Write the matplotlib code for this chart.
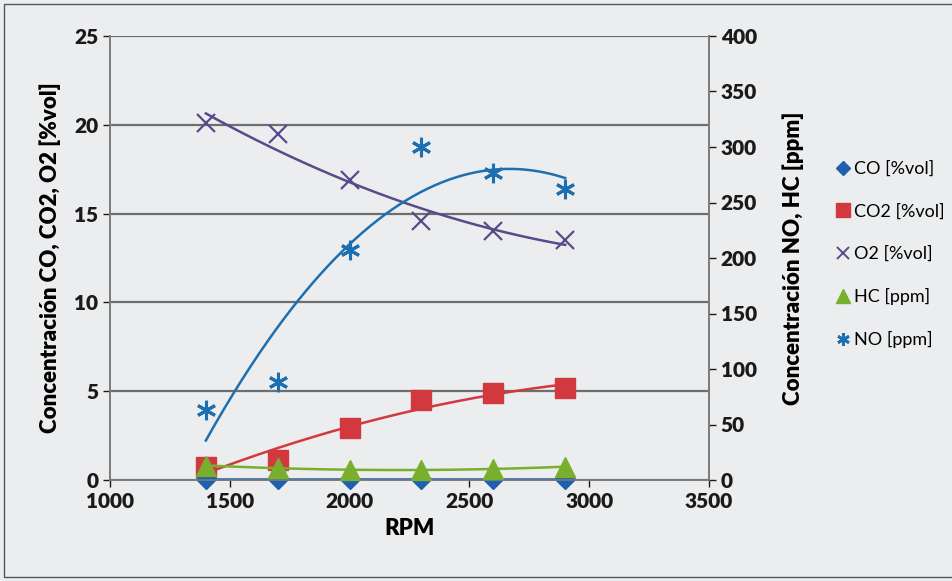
import numpy as np
import matplotlib
matplotlib.use("Agg")
import matplotlib.pyplot as plt
from matplotlib.lines import Line2D

rpm = [1400, 1700, 2000, 2300, 2600, 2900]
co_vol = [0.05, 0.05, 0.05, 0.05, 0.05, 0.05]
co2_vol = [0.75, 1.15, 2.9, 4.5, 4.9, 5.2]
o2_vol = [20.1, 19.5, 16.9, 14.6, 14.0, 13.5]
hc_ppm = [13, 11, 9, 9, 10, 12]
no_ppm = [63, 88, 207, 300, 277, 262]

x_ticks = [1000, 1500, 2000, 2500, 3000, 3500]
left_ticks = [0, 5, 10, 15, 20, 25]
right_ticks = [0, 50, 100, 150, 200, 250, 300, 350, 400]

BG = "#ECEDEF"
C_CO = "#1F5FAF"
C_CO2 = "#D2393F"
C_O2 = "#5B4A8B"
C_HC = "#78B02E"
C_NO = "#1E6FB0"

FONT = ["Lato", "DejaVu Sans"]
plt.rcParams["font.family"] = FONT

fig = plt.figure(figsize=(9.53, 5.81), dpi=100, facecolor=BG)
ax = fig.add_axes([110 / 953, 1 - 480 / 581, (709 - 110) / 953, (480 - 36) / 581])
ax.set_facecolor(BG)
ax2 = ax.twinx()

# chart frame
fig.patches.append(plt.Rectangle((4 / 953, 4 / 581), 1.2, 1 - 8 / 581,
                                 transform=fig.transFigure, fill=False,
                                 edgecolor="#555555", linewidth=1.0))

ax.set_xlim(1000, 3500)
ax.set_ylim(0, 25)
ax2.set_ylim(0, 400)
ax.set_xticks(x_ticks)
ax.set_yticks(left_ticks)
ax2.set_yticks(right_ticks)

ax.yaxis.grid(True, color="#6E6E6E", linewidth=1.6)
ax.set_axisbelow(True)

for a in (ax, ax2):
    for s in a.spines.values():
        s.set_color("#7A7A7A")
        s.set_linewidth(1.2)
    a.spines["top"].set_visible(False)
    a.tick_params(colors="#1A1A1A", length=5, width=1, labelsize=15)
    for lbl in a.get_xticklabels() + a.get_yticklabels():
        lbl.set_fontweight("heavy")

xs = np.linspace(rpm[0], rpm[-1], 200)


def trend(a, y, color):
    coef = np.polyfit(rpm, y, 2)
    a.plot(xs, np.polyval(coef, xs), color=color, linewidth=1.8, zorder=3)


trend(ax, co_vol, C_CO)
trend(ax, co2_vol, C_CO2)
trend(ax, o2_vol, C_O2)
trend(ax2, hc_ppm, C_HC)
trend(ax2, no_ppm, C_NO)

ax.plot(rpm, co_vol, linestyle="none", marker="D", markersize=10,
        color=C_CO, zorder=5, clip_on=False)
ax.plot(rpm, co2_vol, linestyle="none", marker="s", markersize=14,
        color=C_CO2, zorder=4, clip_on=False)
ax.plot(rpm, o2_vol, linestyle="none", marker="x", markersize=13,
        markeredgewidth=1.6, color=C_O2, zorder=4)
ax2.plot(rpm, hc_ppm, linestyle="none", marker="^", markersize=14,
         color=C_HC, zorder=5, clip_on=False)
ax2.plot(rpm, no_ppm, linestyle="none", marker=(6, 2, 0), markersize=14,
         markeredgewidth=2.2, color=C_NO, zorder=5)

ax.set_xlabel("RPM", fontsize=16, fontweight="heavy", labelpad=5)
ax.set_ylabel("Concentración CO, CO2, O2 [%vol]", fontsize=16,
              fontweight="heavy", labelpad=9)
ax2.set_ylabel("Concentración NO, HC [ppm]", fontsize=16,
               fontweight="heavy", labelpad=18)

handles = [
    Line2D([], [], linestyle="none", marker="D", markersize=7, color=C_CO),
    Line2D([], [], linestyle="none", marker="s", markersize=10, color=C_CO2),
    Line2D([], [], linestyle="none", marker="x", markersize=9,
           markeredgewidth=1.4, color=C_O2),
    Line2D([], [], linestyle="none", marker="^", markersize=10, color=C_HC),
    Line2D([], [], linestyle="none", marker=(6, 2, 0), markersize=9,
           markeredgewidth=2, color=C_NO),
]
labels = ["CO [%vol]", "CO2 [%vol]", "O2 [%vol]", "HC [ppm]", "NO [ppm]"]
fig.legend(handles, labels, loc="upper left", bbox_to_anchor=(826 / 953, 1 - 152 / 581),
           frameon=False, fontsize=13, labelspacing=1.45, handletextpad=0.15,
           handlelength=0.9, borderpad=0)

fig.savefig("out.png", dpi=100, facecolor=BG)
